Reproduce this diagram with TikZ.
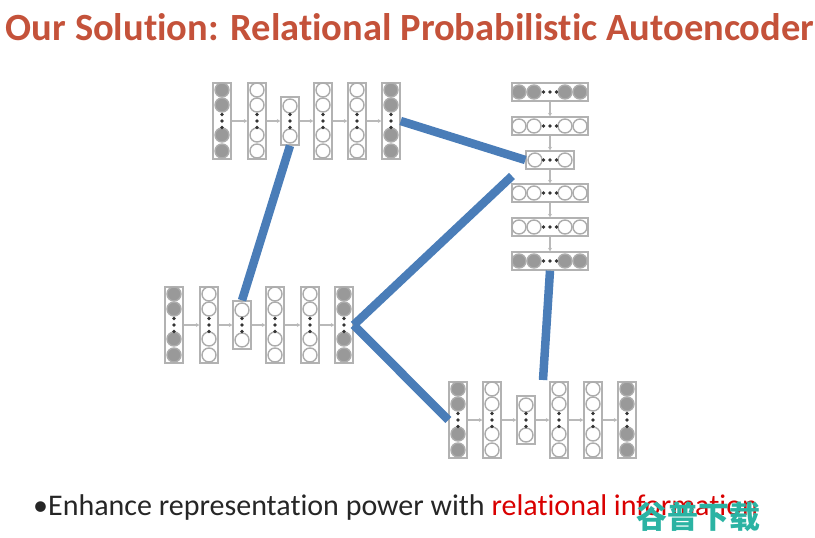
\documentclass[tikz,border=0pt]{standalone}
\usepackage{fontspec}
\setmainfont{Carlito}[Ligatures=NoCommon]
\newfontfamily\cjk{Noto Sans CJK SC}
\usepackage{tikz}
\usetikzlibrary{arrows.meta,positioning,calc}
\definecolor{titlered}{HTML}{C4523A}
\definecolor{linkblue}{HTML}{4A7DB8}
\definecolor{marktext}{HTML}{2BB3A3}
\tikzset{
  layerbar/.style={draw=gray!60,line width=1.4pt,inner sep=0pt},
  lightunit/.style={circle,draw=gray!65,line width=1.4pt,fill=white,inner sep=0pt,minimum size=14pt},
  darkunit/.style={lightunit,fill=gray!80},
  moredot/.style={circle,fill=black!80,inner sep=0pt,minimum size=3.6pt},
  layerlink/.style={draw=gray!55,line width=1.4pt,-{Stealth[length=3.5pt,width=4pt]}},
  bluelink/.style={draw=linkblue,line width=8.5pt}
}
% name, x, y, long side, unit offsets, unit style
\newcommand{\layerV}[6]{
  \node[layerbar,minimum width=18pt,minimum height=#4pt] (#1) at (#2,#3) {};
  \foreach \d in {#5} \node[#6unit] (#1-\d) at (#2,#3+\d) {};
  \foreach \d in {-6.5,0,6.5} \node[moredot] (#1-dot\d) at (#2,#3+\d) {};
}
\newcommand{\layerH}[6]{
  \node[layerbar,minimum width=#4pt,minimum height=18pt] (#1) at (#2,#3) {};
  \foreach \d in {#5} \node[#6unit] (#1-\d) at (#2+\d,#3) {};
  \foreach \d in {-6.5,0,6.5} \node[moredot] (#1-dot\d) at (#2+\d,#3) {};
}
\begin{document}
\begin{tikzpicture}[x=1pt,y=-1pt]
  \useasboundingbox (0,0) rectangle (815,538);
  % Title and bullet
  \node[font=\bfseries\fontsize{38.5}{42}\selectfont,text=titlered] (title) at (410,27) {Our Solution: Relational Probabilistic Autoencoder};
  \node[anchor=west,inner sep=0pt,font=\fontsize{30}{33}\selectfont,text=black!85] (bullet) at (33,507) {•Enhance representation power with \textcolor{red!85!black}{relational information}};
  \node[font=\cjk\bfseries\fontsize{31}{33}\selectfont,text=marktext] (mark) at (698,517) {谷普下载};
  % Top autoencoder
  \layerV{t1}{222}{121}{76}{-31,-16,14,30}{dark}
  \layerV{t2}{257}{121}{76}{-31,-16,14,30}{light}
  \layerV{t3}{290}{121}{48}{-15,15}{light}
  \layerV{t4}{323}{121}{76}{-31,-16,14,30}{light}
  \layerV{t5}{357}{121}{76}{-31,-16,14,30}{light}
  \layerV{t6}{391}{121}{76}{-31,-16,14,30}{dark}
  % Right autoencoder
  \layerH{r1}{550}{92}{76}{-31,-16,15,30}{dark}
  \layerH{r2}{550}{126}{76}{-31,-16,15,30}{light}
  \layerH{r3}{550}{160}{48}{-15,15}{light}
  \layerH{r4}{550}{193}{76}{-31,-16,15,30}{light}
  \layerH{r5}{550}{227}{76}{-31,-16,15,30}{light}
  \layerH{r6}{550}{261}{76}{-31,-16,15,30}{dark}
  % Left autoencoder
  \layerV{l1}{174}{325}{76}{-31,-16,14,30}{dark}
  \layerV{l2}{209}{325}{76}{-31,-16,14,30}{light}
  \layerV{l3}{242}{325}{48}{-15,15}{light}
  \layerV{l4}{275}{325}{76}{-31,-16,14,30}{light}
  \layerV{l5}{310}{325}{76}{-31,-16,14,30}{light}
  \layerV{l6}{344}{325}{76}{-31,-16,14,30}{dark}
  % Bottom autoencoder
  \layerV{b1}{458}{420}{76}{-31,-16,14,30}{dark}
  \layerV{b2}{492}{420}{76}{-31,-16,14,30}{light}
  \layerV{b3}{526}{420}{48}{-15,15}{light}
  \layerV{b4}{559}{420}{76}{-31,-16,14,30}{light}
  \layerV{b5}{593}{420}{76}{-31,-16,14,30}{light}
  \layerV{b6}{627}{420}{76}{-31,-16,14,30}{dark}
  % Links inside each autoencoder
  \foreach \s in {t,r,l,b}
    \foreach \a/\b in {1/2,2/3,3/4,4/5,5/6}
      \draw[layerlink] (\s\a) -- (\s\b);
  % Relations between autoencoders
  \coordinate (gapr) at (512,176);
  \coordinate (gapb) at (543,380);
  \draw[bluelink] (t3.south) -- (l3.north);
  \draw[bluelink] (t6.east) -- (r3.west);
  \draw[bluelink] (l6.east) -- (gapr);
  \draw[bluelink] (l6.east) -- (b1.west);
  \draw[bluelink] (r6.south) -- (gapb);
\end{tikzpicture}
\end{document}
